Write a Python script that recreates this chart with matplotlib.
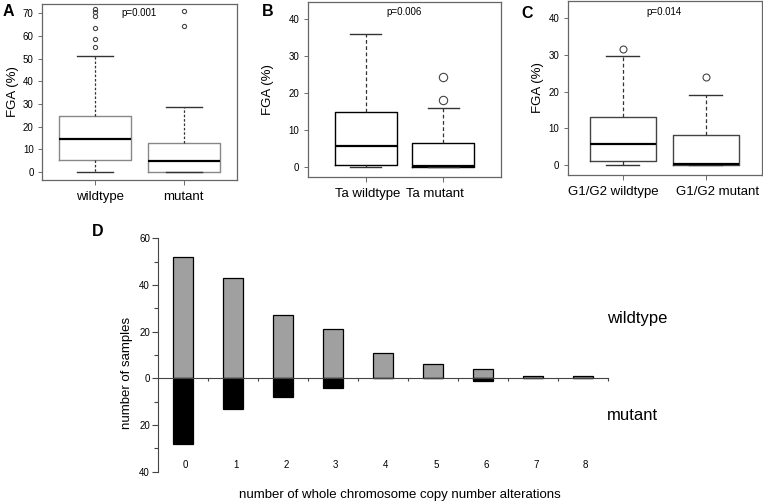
import matplotlib
matplotlib.use("Agg")
import matplotlib.pyplot as plt
from matplotlib.ticker import MultipleLocator, FuncFormatter

plt.rcParams['font.family'] = ['Liberation Sans', 'DejaVu Sans']

# --- box plot summaries (FGA %) ---
groups_a = ['wildtype', 'mutant']
whislo_a = [0, 0]
q1_a = [5.5, 0]
med_a = [14.5, 5]
q3_a = [24.5, 13]
whishi_a = [51, 28.7]
fliers_a = [[55, 58.5, 63.5, 69, 70.5, 72], [64.5, 71]]

groups_b = ['Ta wildtype', 'Ta mutant']
whislo_b = [0, 0]
q1_b = [0.5, 0]
med_b = [5.7, 0.3]
q3_b = [14.8, 6.5]
whishi_b = [36, 16]
fliers_b = [[], [18.2, 24.2]]

groups_c = ['G1/G2 wildtype', 'G1/G2 mutant']
whislo_c = [0, 0]
q1_c = [1.3, 0]
med_c = [5.7, 0.5]
q3_c = [13, 8.2]
whishi_c = [29.7, 19]
fliers_c = [[31.4], [24]]

pvals = ['p=0.001', 'p=0.006', 'p=0.014']

# --- panel D: number of samples per number of whole chromosome CNAs ---
n_alterations = [0, 1, 2, 3, 4, 5, 6, 7, 8]
wildtype_counts = [52, 43, 27, 21, 11, 6, 4, 1, 1]
mutant_counts = [28, 13, 8, 4, 0, 0, 1, 0, 0]

W, H = 763, 503
fig = plt.figure(figsize=(W / 100, H / 100), dpi=100)


def px_axes(left, top, right, bottom):
    return fig.add_axes([left / W, 1 - bottom / H, (right - left) / W, (bottom - top) / H])


def make_stats(lo, q1, med, q3, hi, fl):
    return [dict(whislo=lo[i], q1=q1[i], med=med[i], q3=q3[i], whishi=hi[i], fliers=fl[i])
            for i in range(len(lo))]


def box_panel(ax, stats, labels, label_x, xlim, ylim, ymax_tick, pval, py,
              boxcol, flsize, wls, ylab_x):
    ax.bxp(stats, positions=[1, 2], widths=0.8, patch_artist=False,
           boxprops=dict(color=boxcol, lw=1.0),
           medianprops=dict(color='black', lw=1.6),
           whiskerprops=dict(color='#333333', lw=0.9, ls=wls),
           capprops=dict(color='#333333', lw=1.0),
           capwidths=0.4,
           flierprops=dict(marker='o', markerfacecolor='none', markeredgecolor='#444444',
                           markersize=flsize, markeredgewidth=0.8))
    ax.set_xlim(*xlim)
    ax.set_ylim(*ylim)
    ax.set_xticks([1, 2])
    ax.set_xticklabels([])
    # group labels were placed individually in the original
    for lx, lab in zip(label_x, labels):
        ax.text(lx, -0.095, lab, fontsize=9.5, ha='center', va='center',
                transform=ax.get_xaxis_transform())
    ax.set_yticks(range(0, ymax_tick + 1, 10))
    ax.tick_params(axis='y', labelsize=7, length=3, width=0.6, pad=3, color='#555555')
    ax.tick_params(axis='x', length=3.5, width=0.6, pad=4, color='#555555')
    for s in ax.spines.values():
        s.set_color('#666666')
        s.set_linewidth(0.9)
    ax.set_ylabel('FGA (%)', fontsize=9.5)
    ax.yaxis.set_label_coords(ylab_x, 0.5)
    ax.text(1.5, py, pval, fontsize=7, ha='center', va='center')


axA = px_axes(42, 4, 237, 180)
box_panel(axA, make_stats(whislo_a, q1_a, med_a, q3_a, whishi_a, fliers_a), groups_a,
          [1.056, 1.985], (0.416, 2.584), (-3.5, 74.1), 70, pvals[0], 70,
          '#888888', 3, (0, (2, 1.5)), -0.12)

axB = px_axes(307.7, 2, 500.7, 177)
box_panel(axB, make_stats(whislo_b, q1_b, med_b, q3_b, whishi_b, fliers_b), groups_b,
          [1.023, 1.893], (0.253, 2.74), (-2.6, 44.5), 40, pvals[1], 41.8,
          'black', 6, (0, (3, 2)), -0.175)

axC = px_axes(567.7, 1, 762, 175)
box_panel(axC, make_stats(whislo_c, q1_c, med_c, q3_c, whishi_c, fliers_c), groups_c,
          [0.88, 2.149], (0.333, 2.68), (-2.6, 44.5), 40, pvals[2], 41.4,
          '#444444', 5, (0, (3, 2)), -0.12)

# --- panel D ---
axD = px_axes(158.3, 238.3, 608.3, 471.7)
axD.bar(n_alterations, wildtype_counts, width=0.4, color='#a0a0a0', edgecolor='black', lw=0.9)
axD.bar(n_alterations, [-m for m in mutant_counts], width=0.4, color='black', edgecolor='black', lw=0.9)
axD.set_xlim(-0.5, 8.5)
axD.set_ylim(-40, 60)
for s in ['top', 'right']:
    axD.spines[s].set_visible(False)
axD.spines['bottom'].set_position(('data', 0))
axD.spines['bottom'].set_color('#444444')
axD.spines['left'].set_color('#444444')
axD.spines['bottom'].set_linewidth(0.8)
axD.spines['left'].set_linewidth(0.8)
axD.set_xticks([i + 0.5 for i in n_alterations])
axD.set_xticklabels([])
axD.tick_params(axis='x', length=2.5, width=0.8, direction='out', color='#444444')
axD.yaxis.set_major_locator(MultipleLocator(20))
axD.yaxis.set_minor_locator(MultipleLocator(10))
axD.yaxis.set_major_formatter(FuncFormatter(lambda v, p: f'{abs(int(v))}'))
axD.tick_params(axis='y', which='major', length=4, width=0.8, labelsize=7, pad=2, color='#444444')
axD.tick_params(axis='y', which='minor', length=3, width=0.8, color='#444444')
for i in n_alterations:
    axD.text(i + 0.05, -37.2, str(i), ha='center', va='center', fontsize=7)
axD.set_ylabel('number of samples', fontsize=9.5)
axD.yaxis.set_label_coords(-0.056, 0.423)

fig.text(400 / W, 1 - 495 / H, 'number of whole chromosome copy number alterations',
         fontsize=9.5, ha='center', va='center')
fig.text(606.7 / W, 1 - 319 / H, 'wildtype', fontsize=12, ha='left', va='center')
fig.text(606.7 / W, 1 - 415 / H, 'mutant', fontsize=12, ha='left', va='center')

for lab, x, y in [('A', 3, 12), ('B', 262, 12), ('C', 521, 13), ('D', 92, 231)]:
    fig.text(x / W, 1 - y / H, lab, fontsize=11.5, fontweight='bold', ha='left', va='center')

fig.savefig('out.png', dpi=100)
